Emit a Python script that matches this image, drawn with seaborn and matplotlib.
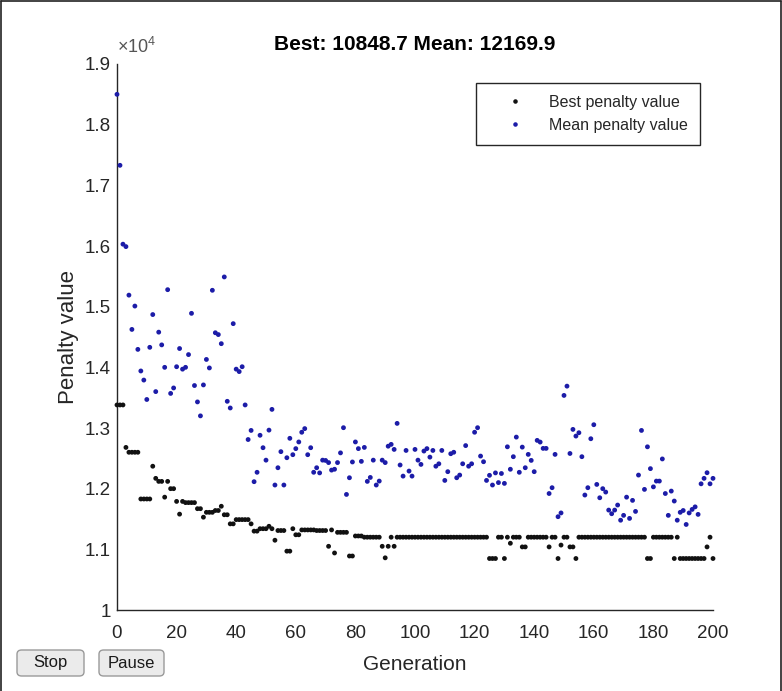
import matplotlib
matplotlib.use("Agg")
import matplotlib.pyplot as plt
import pandas as pd
import seaborn as sns
from matplotlib.lines import Line2D
from matplotlib.patches import FancyBboxPatch
from matplotlib.ticker import FixedLocator, FuncFormatter

# ---- data -------------------------------------------------------------
generations = list(range(201))

best_penalty = [
    13380, 13380, 13380, 12680, 12600, 12600, 12600, 12600, 11830, 11830,
    11830, 11830, 12370, 12170, 12120, 12120, 11860, 12120, 12000, 12000,
    11790, 11580, 11790, 11770, 11770, 11770, 11770, 11670, 11670, 11530,
    11610, 11610, 11610, 11640, 11640, 11710, 11570, 11570, 11420, 11420,
    11490, 11490, 11490, 11490, 11490, 11420, 11300, 11300, 11340, 11340,
    11340, 11380, 11340, 11150, 11310, 11310, 11310, 10970, 10970, 11340,
    11240, 11240, 11320, 11320, 11320, 11320, 11320, 11310, 11310, 11310,
    11310, 11050, 11320, 10940, 11280, 11280, 11280, 11280, 10890, 10890,
    11220, 11220, 11220, 11200, 11200, 11200, 11200, 11200, 11200, 11050,
    10860, 11050, 11200, 11050, 11200, 11200, 11200, 11200, 11200, 11200,
    11200, 11200, 11200, 11200, 11200, 11200, 11200, 11200, 11200, 11200,
    11200, 11200, 11200, 11200, 11200, 11200, 11200, 11200, 11200, 11200,
    11200, 11200, 11200, 11200, 11200, 10848.7, 10848.7, 10848.7, 11200, 11200,
    10848.7, 11200, 11100, 11200, 11200, 11200, 11040, 11040, 11200, 11200,
    11200, 11200, 11200, 11200, 11200, 11040, 11200, 11200, 10848.7, 11070,
    11200, 11200, 11040, 11040, 10848.7, 11200, 11200, 11200, 11200, 11200,
    11200, 11200, 11200, 11200, 11200, 11200, 11200, 11200, 11200, 11200,
    11200, 11200, 11200, 11200, 11200, 11200, 11200, 11200, 10848.7, 10848.7,
    11200, 11200, 11200, 11200, 11200, 11200, 11200, 10848.7, 11200, 10848.7,
    10848.7, 10848.7, 10848.7, 10848.7, 10848.7, 10848.7, 10848.7, 10848.7, 11040, 11200,
    10848.7,
]

mean_penalty = [
    18500, 17330, 16030, 15990, 15190, 14625, 15010, 14296, 13940, 13790,
    13470, 14330, 14870, 13600, 14580, 14370, 14000, 15280, 13570, 13660,
    14010, 14310, 13970, 14000, 14210, 14890, 13700, 13430, 13200, 13710,
    14130, 13990, 15270, 14570, 14540, 14390, 15490, 13440, 13330, 14720,
    13970, 13930, 14010, 13380, 12810, 12960, 12115, 12270, 12880, 12675,
    12470, 12965, 13307, 12060, 12345, 12610, 12060, 12510, 12830, 12560,
    12660, 12770, 12930, 12990, 12560, 12675, 12270, 12345, 12260, 12470,
    12465, 12430, 12306, 12320, 12430, 12590, 13005, 11905, 12180, 12440,
    12770, 12660, 12450, 12680, 12120, 12185, 12470, 12060, 12125, 12470,
    12430, 12700, 12730, 12647, 13076, 12390, 12207, 12630, 12290, 12207,
    12647, 12470, 12400, 12620, 12660, 12520, 12630, 12370, 12410, 12630,
    12136, 12280, 12576, 12600, 12180, 12224, 12410, 12710, 12370, 12410,
    12930, 13005, 12537, 12444, 12136, 12220, 12060, 12260, 12100, 12250,
    12087, 12690, 12320, 12527, 12850, 12270, 12685, 12345, 12565, 12466,
    12280, 12796, 12768, 12664, 12664, 11920, 12016, 12565, 11538, 11600,
    13537, 13690, 12580, 12977, 12867, 12922, 12527, 11895, 12016, 12823,
    13054, 12070, 11850, 12000, 11944, 11647, 11587, 11647, 11730, 11480,
    11560, 11860, 11510, 11807, 11625, 12224, 12960, 11988, 12690, 12330,
    12030, 12125, 12125, 12490, 11920, 11560, 11960, 11796, 11480, 11610,
    11640, 11410, 11600, 11658, 11700, 11576, 12080, 12170, 12263, 12080,
    12169.9,
]

series_labels = ["Best penalty value", "Mean penalty value"]
series_colors = ["#111111", "#1c1ca8"]
x_ticks = list(range(0, 201, 20))
y_ticks = list(range(10000, 19001, 1000))
y_scale = 10000

# ---- style ------------------------------------------------------------
sns.set_style("white")
plt.rcParams["font.family"] = ["Liberation Sans", "DejaVu Sans"]
plt.rcParams["mathtext.fontset"] = "custom"
plt.rcParams["mathtext.rm"] = "Liberation Sans"
plt.rcParams["mathtext.it"] = "Liberation Sans"
axis_color = "#262626"

df = pd.DataFrame({
    "Generation": generations * 2,
    "Penalty": best_penalty + mean_penalty,
    "Series": [series_labels[0]] * len(best_penalty) + [series_labels[1]] * len(mean_penalty),
})

W, H = 782, 691
fig = plt.figure(figsize=(W / 100, H / 100), dpi=100, facecolor="white")
ax = fig.add_axes([117 / W, (H - 610) / H, 596 / W, 546 / H])

sns.scatterplot(
    data=df, x="Generation", y="Penalty", hue="Series",
    hue_order=series_labels, palette=dict(zip(series_labels, series_colors)),
    s=12, linewidth=0, legend=False, ax=ax, clip_on=False, zorder=3,
)

ax.set_xlim(0, 200)
ax.set_ylim(10000, 19000)
ax.xaxis.set_major_locator(FixedLocator(x_ticks))
ax.yaxis.set_major_locator(FixedLocator(y_ticks))
ax.yaxis.set_major_formatter(FuncFormatter(lambda v, _: f"{v / y_scale:g}"))

for side in ("top", "right"):
    ax.spines[side].set_visible(False)
for side in ("left", "bottom"):
    ax.spines[side].set_color(axis_color)
    ax.spines[side].set_linewidth(1.0)

ax.tick_params(axis="both", direction="in", length=4, width=1.0,
               colors=axis_color, labelsize=13.5)
ax.tick_params(axis="x", pad=10.5)
ax.tick_params(axis="y", pad=4.5)

ax.set_xlabel("Generation", fontsize=15, color=axis_color, labelpad=10)
ax.set_ylabel("Penalty value", fontsize=16, color=axis_color)
ax.yaxis.set_label_coords(-0.064, 0.5)

ax.set_title(f"Best: {best_penalty[-1]:g} Mean: {mean_penalty[-1]:g}",
             fontsize=15, fontweight="bold", color="black", pad=10)

ax.annotate(r"$\times10^{4}$", xy=(0, 1), xycoords="axes fraction",
            xytext=(0, 5), textcoords="offset points",
            ha="left", va="bottom", fontsize=13, color="#555555")

handles = [Line2D([], [], linestyle="none", marker=".", markersize=4.5,
                  color=c) for c in series_colors]
leg = ax.legend(handles, series_labels, loc="upper right",
                bbox_to_anchor=(0.978, 0.965), borderaxespad=0,
                fontsize=11.5, frameon=True, fancybox=False,
                edgecolor=axis_color, framealpha=1,
                handlelength=3.4, handletextpad=0.4, borderpad=0.75,
                labelspacing=0.5)
leg.get_frame().set_linewidth(1.0)
for t in leg.get_texts():
    t.set_color(axis_color)

# window controls under the axes
for label, x0, x1 in (("Stop", 17, 84), ("Pause", 99, 164)):
    box = FancyBboxPatch((x0 / W, (H - 676) / H), (x1 - x0) / W, 26 / H,
                         boxstyle="round,pad=0,rounding_size=0.006",
                         transform=fig.transFigure, facecolor="#ebebeb",
                         edgecolor="#9a9a9a", linewidth=1.0)
    fig.add_artist(box)
    fig.text((x0 + x1) / 2 / W, (H - 663) / H, label, ha="center",
             va="center", fontsize=12, color="#1a1a1a")

# outer window frame
for xs, ys in (([1.0 / W, 1.0 / W], [0, 1 - 1.0 / H]),
               ([1.0 / W, 1 - 1.5 / W], [1 - 1.0 / H, 1 - 1.0 / H]),
               ([1 - 1.5 / W, 1 - 1.5 / W], [0, 1 - 1.0 / H])):
    fig.add_artist(Line2D(xs, ys, transform=fig.transFigure,
                          color="#222222", linewidth=1.2))

fig.savefig("out.png", dpi=100, facecolor="white")
